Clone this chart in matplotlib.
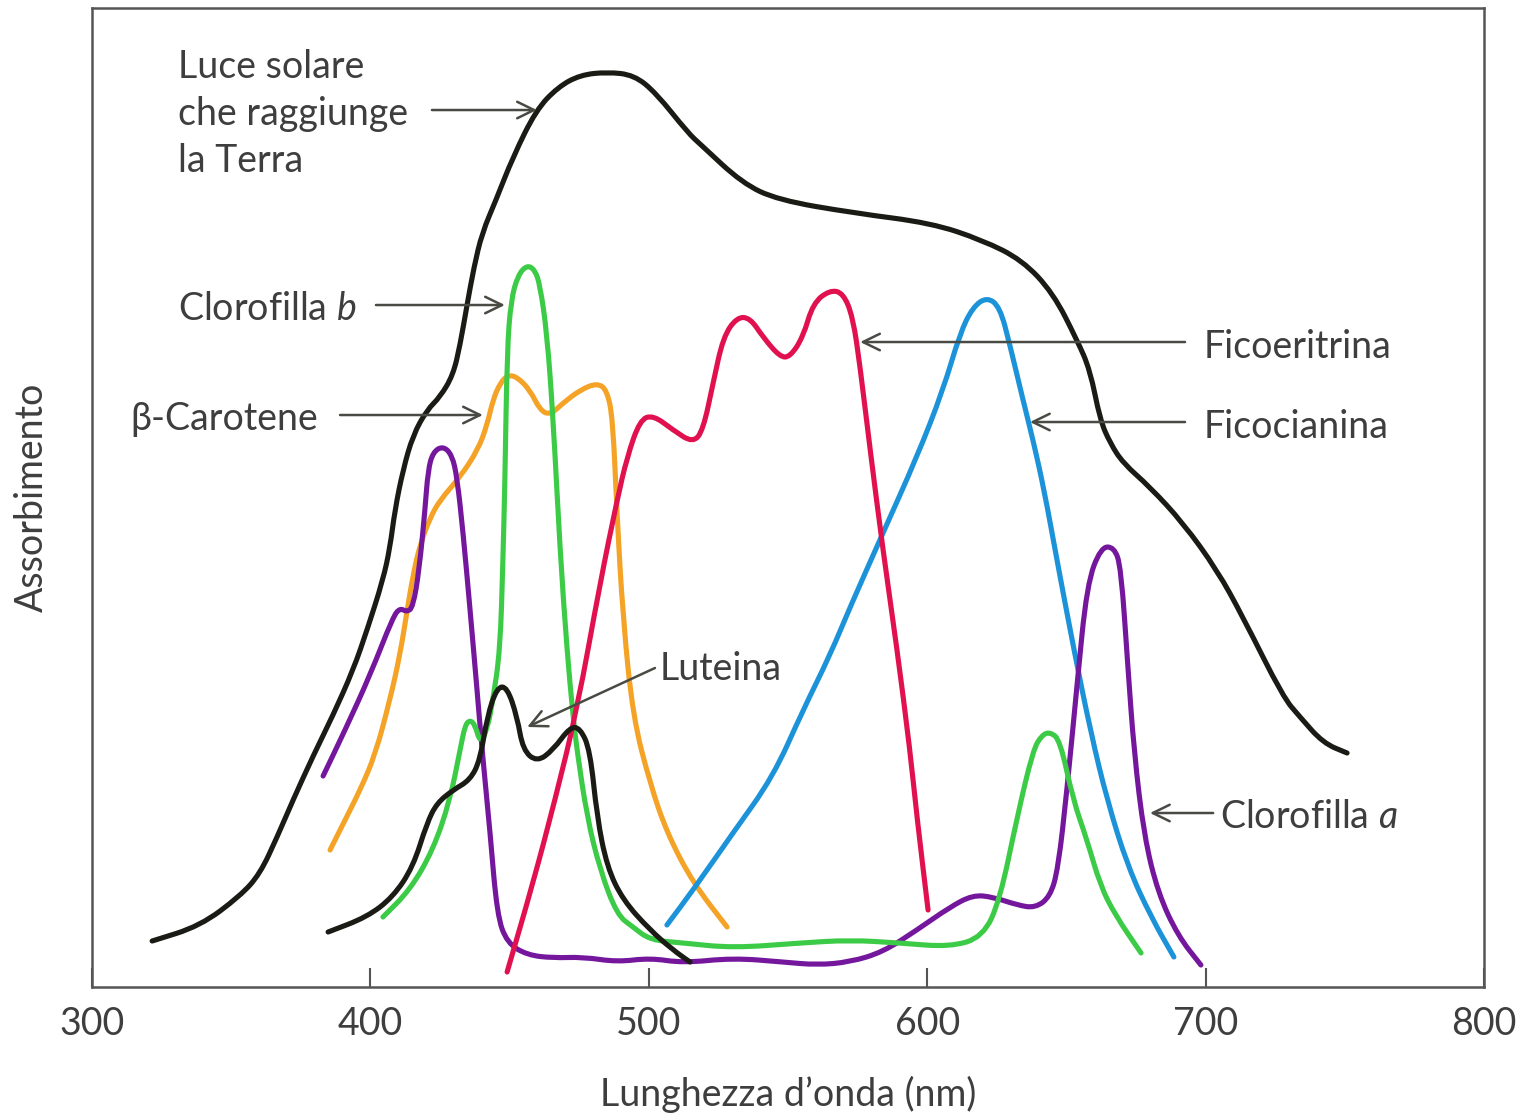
import numpy as np
import matplotlib
matplotlib.use("Agg")
import matplotlib.pyplot as plt
from matplotlib.path import Path
from matplotlib.patches import PathPatch

plt.rcParams['font.family'] = ['Lato', 'DejaVu Sans']
plt.rcParams['mathtext.fontset'] = 'custom'
plt.rcParams['mathtext.rm'] = 'Lato'
plt.rcParams['mathtext.it'] = 'Lato:italic'

# luce solare (nm, unita arbitrarie)
sun_nm = [321.6, 338.8, 353.2, 360.3, 366.5, 372.2, 379.4, 386.6, 393.8, 398.8, 404.5, 407.0,
          408.8, 411.7, 415.3, 420.3, 425.0, 429.7, 432.2, 434.7, 437.2, 440.1, 445.1, 451.2,
          459.5, 467.4, 475.3, 485.0, 494.7, 502.6, 514.1, 518.8, 533.5, 546.4, 573.7, 601.4,
          619.7, 634.1, 645.2, 653.8, 658.5, 662.1, 665.7, 670.3, 680.0, 691.9, 704.1, 713.4,
          727.8, 733.9, 742.2, 750.8]
sun_abs = [4.6, 6.1, 9.1, 11.3, 15.0, 18.7, 23.1, 27.2, 31.7, 35.7, 40.7, 43.9,
           47.7, 51.7, 55.2, 57.7, 59.0, 61.2, 64.2, 68.2, 72.0, 75.4, 78.7, 83.0,
           87.7, 90.0, 91.2, 91.5, 91.2, 89.4, 85.4, 84.2, 80.4, 78.7, 77.4, 76.4,
           74.7, 72.7, 69.4, 64.7, 61.7, 56.7, 54.4, 52.4, 50.0, 46.4, 41.7, 37.0,
           29.0, 27.0, 24.4, 23.4]

# clorofilla a
chla_nm = [383.0, 390.9, 399.9, 408.1, 410.6, 413.1, 415.3, 417.5, 419.6, 420.7, 422.5, 426.1,
           429.3, 431.1, 433.3, 435.8, 438.3, 440.1, 443.0, 445.5, 449.1, 456.3, 465.6, 476.4,
           488.6, 500.4, 512.3, 530.2, 548.2, 560.4, 572.3, 584.1, 596.3, 608.2, 616.4, 623.6,
           632.3, 638.7, 644.1, 647.0, 650.2, 653.8, 657.4, 662.4, 667.1, 669.6, 672.1, 674.3,
           677.9, 682.9, 690.1, 698.3]
chla_abs = [21.1, 25.7, 31.2, 37.0, 37.9, 37.5, 38.0, 41.7, 47.7, 51.7, 53.5, 54.1,
            53.2, 51.0, 45.4, 37.7, 29.7, 23.7, 15.4, 7.2, 4.4, 3.2, 2.9, 3.0,
            2.5, 2.9, 2.4, 2.9, 2.5, 2.2, 2.5, 3.5, 5.7, 8.0, 9.2, 9.0,
            8.2, 7.9, 9.0, 11.8, 19.7, 30.2, 40.3, 44.0, 44.0, 42.0, 31.9, 23.5,
            15.1, 9.4, 5.1, 2.2]

# clorofilla b
chlb_nm = [404.5, 414.2, 422.5, 428.6, 432.2, 434.0, 435.8, 437.6, 439.4, 441.9, 444.0, 446.6,
           447.6, 448.3, 449.1, 450.5, 453.0, 456.3, 459.1, 460.9, 463.4, 465.6, 468.1, 470.6,
           472.8, 474.2, 477.8, 482.5, 488.6, 494.3, 500.4, 512.3, 530.2, 554.3, 572.3, 590.2,
           608.2, 620.0, 626.1, 632.3, 638.0, 641.2, 644.1, 647.7, 652.4, 657.4, 662.1, 667.5,
           676.8]
chlb_abs = [7.0, 9.7, 13.7, 18.7, 23.7, 26.2, 26.7, 26.2, 24.4, 25.7, 28.7, 33.7,
            42.7, 50.4, 63.7, 68.7, 71.2, 72.2, 71.7, 70.2, 65.4, 57.0, 43.7, 33.7,
            27.0, 23.7, 17.0, 11.7, 7.2, 6.0, 4.7, 4.4, 3.9, 4.4, 4.7, 4.4,
            4.0, 5.0, 8.7, 17.0, 23.7, 25.2, 25.5, 24.7, 18.7, 14.7, 10.2, 7.2,
            3.4]

# beta-carotene
car_nm = [385.5, 390.9, 396.3, 401.7, 407.0, 410.6, 413.1, 415.3, 417.8, 421.4, 425.0, 432.2,
          438.6, 441.9, 444.0, 446.6, 449.4, 452.7, 457.3, 460.9, 464.5, 469.2, 475.3, 481.4,
          485.0, 487.1, 488.6, 490.7, 494.3, 500.4, 506.5, 515.9, 528.1]
car_abs = [13.7, 16.7, 19.7, 23.2, 28.7, 33.2, 37.5, 41.2, 44.2, 46.9, 48.7, 51.0,
           53.7, 56.2, 58.7, 60.4, 61.2, 61.0, 59.7, 57.7, 57.2, 58.4, 59.7, 60.4,
           59.7, 56.7, 47.0, 37.0, 27.0, 20.4, 15.4, 10.4, 6.0]

# ficoeritrina
fer_nm = [449.1, 458.4, 466.3, 474.2, 482.5, 488.6, 492.2, 496.8, 501.5, 508.7, 515.9, 519.5,
          523.1, 526.7, 531.7, 536.4, 541.0, 547.1, 550.7, 555.4, 559.0, 565.1, 569.8, 573.3,
          575.9, 579.5, 584.1, 589.2, 593.8, 596.3, 600.3]
fer_abs = [1.5, 10.4, 18.7, 27.7, 40.4, 48.7, 53.0, 56.7, 57.2, 55.7, 54.4, 55.7,
           60.4, 65.0, 67.0, 66.9, 65.0, 63.0, 63.0, 65.0, 68.4, 69.7, 69.4, 67.0,
           62.0, 53.7, 43.7, 33.7, 23.7, 17.0, 7.7]

# ficocianina
fcn_nm = [506.5, 515.9, 530.2, 544.6, 555.4, 565.1, 572.3, 584.1, 596.3, 605.7, 611.8, 616.4,
          621.5, 626.1, 629.7, 634.4, 638.0, 642.0, 646.6, 652.7, 658.8, 664.6, 672.1, 680.4,
          688.6]
fcn_abs = [6.2, 9.7, 15.4, 21.0, 27.7, 33.2, 38.0, 45.4, 53.0, 59.7, 65.4, 68.0,
           69.0, 68.0, 64.2, 58.7, 54.7, 49.7, 42.7, 33.7, 25.4, 18.7, 12.0, 7.0,
           3.0]

# luteina
lut_nm = [384.8, 398.8, 408.1, 415.3, 420.3, 423.9, 429.7, 435.8, 439.4, 441.9, 445.5, 449.1,
          452.7, 454.8, 459.8, 465.6, 471.7, 475.3, 478.9, 481.4, 485.0, 490.7, 500.4, 508.7,
          514.8]
lut_abs = [5.5, 7.0, 9.0, 12.0, 16.4, 18.4, 19.7, 20.7, 22.7, 27.0, 30.0, 30.0,
           27.0, 23.7, 22.5, 23.7, 26.0, 25.9, 23.7, 17.0, 12.0, 8.7, 5.7, 3.7,
           2.5]

xticks = [300, 400, 500, 600, 700, 800]
TXT = '#3e3e3e'
ARR = '#4a4a44'
FS = 27


def smooth(ax, x, y, color, lw=3.7, z=2):
    pts = np.column_stack([x, y])
    verts = [pts[0], (pts[0] + pts[1]) / 2]
    codes = [Path.MOVETO, Path.LINETO]
    for i in range(1, len(pts) - 1):
        verts += [pts[i], (pts[i] + pts[i + 1]) / 2]
        codes += [Path.CURVE3, Path.CURVE3]
    verts.append(pts[-1])
    codes.append(Path.LINETO)
    ax.add_patch(PathPatch(Path(verts, codes), fill=False, edgecolor=color, lw=lw,
                           capstyle='round', joinstyle='round', zorder=z))


fig = plt.figure(figsize=(15.26, 11.15), dpi=100)
ax = fig.add_axes([0.0603, 0.1148, 0.9122, 0.878])

smooth(ax, sun_nm, sun_abs, '#1b1b16', z=2)
smooth(ax, car_nm, car_abs, '#f4a326', z=3)
smooth(ax, chla_nm, chla_abs, '#74179c', z=4)
smooth(ax, fcn_nm, fcn_abs, '#1c93d9', z=3)
smooth(ax, chlb_nm, chlb_abs, '#3ccb46', z=4)
smooth(ax, fer_nm, fer_abs, '#e1114f', z=5)
smooth(ax, lut_nm, lut_abs, '#1b1b16', z=5)

ax.set_xlim(300, 800)
ax.set_ylim(0, 97.9)
ax.set_xticks(xticks)
ax.set_yticks([])
ax.tick_params(axis='x', direction='in', length=14, width=1.5, color='#555555',
               labelsize=FS, labelcolor=TXT, pad=14)
for s in ax.spines.values():
    s.set_linewidth(1.8)
    s.set_color('#555555')
ax.set_xlabel("Lunghezza d’onda (nm)", fontsize=FS, color=TXT, labelpad=24)
ax.set_ylabel("Assorbimento", fontsize=FS, color=TXT, labelpad=30)

ap = dict(arrowstyle='->,head_length=0.45,head_width=0.22', color=ARR, lw=1.8,
          shrinkA=0, shrinkB=0, mutation_scale=FS)

def arrow(x0, y0, x1, y1):
    ax.annotate('', xy=(x1, y1), xytext=(x0, y0), arrowprops=ap, zorder=6)

def label(x, y, s):
    ax.text(x, y, s, fontsize=FS, color=TXT, ha='left', va='center_baseline', zorder=7)

label(330.9, 92.4, 'Luce solare')
label(330.9, 87.7, 'che raggiunge')
label(330.9, 83.0, 'la Terra')
arrow(422.1, 87.7, 459.8, 87.7)

label(330.9, 68.2, 'Clorofilla $\\mathit{b}$')
arrow(402.0, 68.2, 448.3, 68.2)

label(313.6, 57.2, 'β-Carotene')
arrow(389.1, 57.2, 440.4, 57.2)

label(504.0, 32.2, 'Luteina')
arrow(502.2, 31.9, 456.3, 26.0)

label(699.1, 64.4, 'Ficoeritrina')
arrow(692.6, 64.5, 575.9, 64.5)

label(699.1, 56.4, 'Ficocianina')
arrow(692.6, 56.5, 636.9, 56.5)

label(705.2, 17.4, 'Clorofilla $\\mathit{a}$')
arrow(702.7, 17.4, 680.0, 17.4)

fig.savefig('out.png', dpi=100)
